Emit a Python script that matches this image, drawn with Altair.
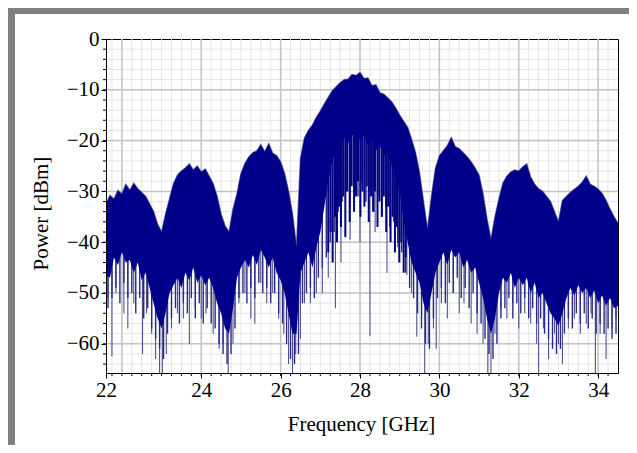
import altair as alt
import pandas as pd

# ---------------- data ----------------
# envelope sample frequencies (GHz), 0.1 GHz apart
FREQ = [round(21.6 + 0.1 * i, 1) for i in range(130)]

# upper edge of the dense trace (dBm)
TOP = [
    -32.5, -30.8, -31.5, -29.8, -30.5, -28.6, -29.8, -28.4, -29.5, -30.2,
    -31.0, -32.5, -34.0, -36.5, -38.0, -34.5, -31.5, -28.5, -26.8, -26.0,
    -25.4, -24.6, -25.8, -25.0, -26.2, -25.6, -27.0, -28.5, -31.0, -34.5,
    -36.8, -38.0, -33.5, -30.5, -26.5, -24.5, -23.2, -22.4, -22.0, -20.8,
    -22.2, -20.6, -22.5, -23.0, -24.2, -26.5, -30.0, -34.5, -41.0, -23.5,
    -19.5, -18.0, -17.0, -15.4, -14.2, -12.8, -11.5, -10.2, -9.4, -8.6,
    -8.0, -7.9, -7.0, -7.2, -6.6, -7.8, -7.7, -9.2, -9.0, -10.6,
    -10.9, -11.6, -12.4, -13.6, -15.0, -16.2, -17.4, -19.8, -22.4, -26.4,
    -32.0, -37.5, -31.0, -25.5, -23.0, -22.0, -21.0, -19.4, -21.2, -21.6,
    -22.4, -23.2, -24.2, -25.4, -26.8, -30.5, -35.5, -39.5, -35.0, -31.5,
    -28.4, -27.0, -26.2, -25.8, -26.0, -25.2, -24.6, -27.2, -28.6, -29.5,
    -30.0, -31.0, -32.0, -34.0, -36.0, -31.8, -31.0, -30.2, -29.6, -29.0,
    -28.2, -27.0, -28.6, -29.0, -29.6, -30.4, -31.8, -33.5, -35.0, -36.3,
]

# lower edge of the solid part of the trace (dBm)
BOT = [
    -46.5, -47.0, -43.0, -44.5, -42.0, -44.0, -43.5, -46.0, -44.0, -47.5,
    -46.0, -49.0, -52.0, -55.0, -57.0, -54.0, -50.0, -48.5, -47.0, -49.0,
    -46.0, -47.5, -45.0, -48.0, -46.5, -48.5, -47.0, -49.0, -52.0, -54.0,
    -57.0, -58.0, -53.0, -47.0, -45.0, -43.5, -45.0, -42.5, -44.5, -41.5,
    -43.0, -45.0, -43.0, -46.0, -47.5, -50.0, -54.0, -58.0, -58.0, -46.0,
    -44.0, -42.0, -45.0, -41.0, -38.0, -33.0, -28.0, -24.0, -22.0, -21.0,
    -19.5, -20.5, -19.0, -18.5, -20.0, -19.0, -21.0, -20.0, -22.0, -21.0,
    -23.0, -22.5, -25.0, -27.0, -30.0, -36.0, -40.0, -44.0, -46.0, -48.0,
    -52.0, -54.0, -50.0, -46.0, -44.0, -42.0, -44.5, -41.5, -43.0, -42.0,
    -45.0, -43.5, -46.0, -45.0, -48.0, -51.0, -55.0, -58.0, -55.0, -50.0,
    -47.0, -48.0, -46.0, -49.0, -47.0, -48.5, -47.0, -50.0, -48.0, -51.0,
    -50.0, -52.0, -54.0, -55.0, -56.5, -54.0, -51.0, -49.0, -50.5, -48.5,
    -50.0, -49.0, -51.0, -49.5, -52.0, -50.5, -52.5, -51.0, -53.0, -52.5,
]

# ragged fringe under the solid part, halfway between envelope samples (dBm)
FRINGE_F = [round(21.65 + 0.1 * i, 2) for i in range(129)]
FRINGE_LO = [
    -53, -51, -49, -52, -48, -51, -50, -54, -51, -55,
    -53, -57, -59, -61, -63, -58, -55, -53, -56, -52,
    -54, -51, -55, -52, -56, -53, -56, -57, -60, -62,
    -64, -62, -57, -51, -50, -52, -49, -51, -48, -50,
    -49, -52, -50, -54, -56, -60, -63, -64, -62, -52,
    -50, -49, -51, -47, -45, -43, -40, -38, -34, -32,
    -30, -33, -29, -31, -28, -32, -30, -34, -31, -35,
    -33, -37, -36, -40, -42, -46, -49, -51, -54, -57,
    -60, -61, -55, -51, -49, -52, -48, -50, -47, -51,
    -49, -53, -50, -54, -56, -59, -62, -63, -60, -55,
    -53, -51, -55, -52, -54, -51, -55, -53, -56, -55,
    -58, -59, -61, -62, -61, -58, -55, -57, -54, -56,
    -54, -57, -55, -58, -56, -58, -57, -59, -58,
]

# deep single-sample dips (GHz, dBm)
SPIKE_F = [21.65, 21.75, 21.85, 22.05, 22.15, 22.3, 22.52, 22.62, 22.75, 22.85,
           22.95, 23.02, 23.12, 23.25, 23.4, 23.55, 23.7, 23.85, 24.0, 24.12,
           24.3, 24.45, 24.55, 24.68, 24.8, 24.95, 25.1, 25.25, 25.35, 25.5,
           25.65, 25.8, 25.95, 26.08, 26.2, 26.3, 26.38, 26.5, 26.6, 26.75,
           26.9, 27.05, 27.2, 27.38, 27.52, 27.75, 28.0, 28.25, 28.38, 28.68,
           28.95, 29.05, 29.18, 29.3, 29.43, 29.55, 29.63, 29.72, 29.85, 29.92,
           30.05, 30.2, 30.35, 30.5, 30.62, 30.8, 30.95, 31.1, 31.22, 31.3,
           31.4, 31.55, 31.7, 31.85, 32.0, 32.15, 32.3, 32.45, 32.5, 32.62,
           32.75, 32.9, 33.0, 33.1, 33.25, 33.4, 33.55, 33.7, 33.82, 33.93,
           34.05, 34.2, 34.35, 34.45]
SPIKE_LO = [-51, -62.5, -50, -54, -57, -52, -62, -54, -58, -63,
            -66, -66, -62, -57, -54, -55, -60, -53, -55, -54,
            -58, -61, -60, -66, -60, -52, -50, -55, -56, -48,
            -52, -50, -55, -58, -64, -66, -62, -59, -52, -52,
            -50, -50, -47, -53, -44, -39.5, -40, -58.5, -38, -46,
            -41, -39, -46.5, -50, -58.6, -55, -66, -60, -57, -61,
            -52, -55, -50, -54, -52, -56, -58, -60, -66, -66,
            -58, -53, -55, -52, -57, -54, -56, -60, -66, -57,
            -63, -58, -60, -64, -57, -55, -58, -56, -54, -66,
            -58, -63, -57, -55]

# comb of lines hanging below the main lobe (GHz, dBm)
COMB_F = [27.20, 27.26, 27.31, 27.37, 27.42, 27.47, 27.52, 27.58, 27.63, 27.68,
          27.74, 27.79, 27.85, 27.90, 27.95, 28.01, 28.06, 28.11, 28.17, 28.22,
          28.28, 28.33, 28.38, 28.44, 28.49, 28.55, 28.60, 28.66, 28.71, 28.77,
          28.82, 28.88, 28.93, 28.99, 29.04, 29.10, 29.15]
COMB_LO = [-42, -38, -44, -35, -40, -33, -37, -31, -39, -30,
           -36, -29, -34, -31, -28, -35, -30, -33, -29, -36,
           -31, -34, -30, -37, -32, -35, -31, -38, -33, -40,
           -35, -42, -37, -44, -40, -46, -43]

# axis ticks
X_LABELS = [21.6, 24, 26, 28, 30, 32, 34]      # first one is printed as "22"
Y_LABELS = [0, -10, -20, -30, -40, -50, -60]
X_MAJOR = [22, 24, 26, 28, 30, 32, 34]
X_MINOR = [round(21.75 + 0.25 * i, 2) for i in range(51)]
Y_MAJOR = [-60, -50, -40, -30, -20, -10]
Y_MINOR = list(range(-64, 0, 2))

# ---------------- chart ----------------
FONT = "Liberation Serif"
FS = 21
W, H = 512, 334
SX = alt.Scale(domain=[21.6, 34.5], nice=False, zero=False)
SY = alt.Scale(domain=[-65.75, 0], nice=False, zero=False)
NAVY = "#00008b"

env = pd.DataFrame({"f": FREQ, "top": TOP, "bot": BOT})
env["mid"] = (env["top"] + env["bot"]) / 2


def band_mid(f):
    i = int(round((f - FREQ[0]) / 0.1))
    i = max(0, min(len(FREQ) - 1, i))
    return env["mid"].iloc[i]


spikes = pd.DataFrame({"f": SPIKE_F, "lo": SPIKE_LO})
spikes["hi"] = [band_mid(f) for f in SPIKE_F]
fringe = pd.DataFrame({"f": FRINGE_F, "lo": FRINGE_LO})
fringe["hi"] = [band_mid(f) for f in FRINGE_F]
comb = pd.DataFrame({"f": COMB_F, "lo": COMB_LO})
comb["hi"] = [band_mid(f) for f in COMB_F]

x_axis = alt.Axis(
    values=X_LABELS, labelExpr="datum.value < 23 ? '22' : datum.label", format="d",
    title="Frequency [GHz]", tickSize=5, tickColor="black", domainColor="black",
    labelFont=FONT, labelFontSize=FS, labelColor="black", labelPadding=1,
    labelFlush=False, labelOverlap=False, grid=False,
    titleFont=FONT, titleFontSize=FS, titleFontWeight="normal", titleColor="black",
    titleX=W / 2 - 1, titleY=57, titleBaseline="alphabetic", titleAlign="center", zindex=1,
)
y_axis = alt.Axis(
    values=Y_LABELS, format="d", title="Power [dBm]", tickSize=5, tickColor="black",
    domainColor="black", labelFont=FONT, labelFontSize=FS, labelColor="black",
    labelPadding=2, labelFlush=False, labelOverlap=False, grid=False,
    titleFont=FONT, titleFontSize=FS, titleFontWeight="normal", titleColor="black",
    titleX=-59, titleY=174, titleAngle=270, titleBaseline="alphabetic",
    titleAlign="center", zindex=1,
)


def xq(field):
    return alt.X(f"{field}:Q", scale=SX, axis=x_axis)


def yq(field):
    return alt.Y(f"{field}:Q", scale=SY, axis=y_axis)


gx_minor = alt.Chart(pd.DataFrame({"v": X_MINOR})).mark_rule(color="#e4e4e4", strokeWidth=1).encode(x=xq("v"))
gy_minor = alt.Chart(pd.DataFrame({"v": Y_MINOR})).mark_rule(color="#e4e4e4", strokeWidth=1).encode(y=yq("v"))
gx_major = alt.Chart(pd.DataFrame({"v": X_MAJOR})).mark_rule(color="#c4c4c4", strokeWidth=1.5).encode(x=xq("v"))
gy_major = alt.Chart(pd.DataFrame({"v": Y_MAJOR})).mark_rule(color="#c4c4c4", strokeWidth=1.5).encode(y=yq("v"))

spike_layer = alt.Chart(spikes).mark_rule(color="#50508a", strokeWidth=1.1, clip=True).encode(
    x=xq("f"), y=yq("lo"), y2="hi")
fringe_layer = alt.Chart(fringe).mark_rule(color="#2a2a86", strokeWidth=1.4, clip=True).encode(
    x=xq("f"), y=yq("lo"), y2="hi")
comb_layer = alt.Chart(comb).mark_rule(color="#000080", strokeWidth=2, clip=True).encode(
    x=xq("f"), y=yq("lo"), y2="hi")
top_edge = alt.Chart(env).mark_line(color="#6e6e9a", strokeWidth=1.4, clip=True).encode(
    x=xq("f"), y=yq("top"))
band = alt.Chart(env).mark_area(color=NAVY, clip=True).encode(
    x=xq("f"), y=yq("top"), y2="bot")

x_minor_ticks = alt.Chart(pd.DataFrame({"v": X_MINOR})).mark_rule(color="black", strokeWidth=1).encode(
    x=xq("v"), y=alt.value(H), y2=alt.value(H + 3))
y_minor_ticks = alt.Chart(pd.DataFrame({"v": Y_MINOR})).mark_rule(color="black", strokeWidth=1).encode(
    y=yq("v"), x=alt.value(-3), x2=alt.value(0))

frame = alt.Chart(pd.DataFrame({"a": [0]})).mark_rect(
    fillOpacity=0, stroke="#808080", strokeWidth=7).encode(
    x=alt.value(-94.5), x2=alt.value(534), y=alt.value(-28.5), y2=alt.value(415))

chart = alt.layer(
    gx_minor, gy_minor, gx_major, gy_major,
    spike_layer, fringe_layer, comb_layer, top_edge, band,
    x_minor_ticks, y_minor_ticks, frame,
).properties(
    width=W, height=H,
    autosize=alt.AutoSizeParams(type="none"),
    padding={"left": 98, "top": 31, "right": 11, "bottom": 72},
    background="white",
).configure_view(stroke="black", strokeWidth=1)

chart.save("out.html", embed_options={"renderer": "svg", "actions": False})
